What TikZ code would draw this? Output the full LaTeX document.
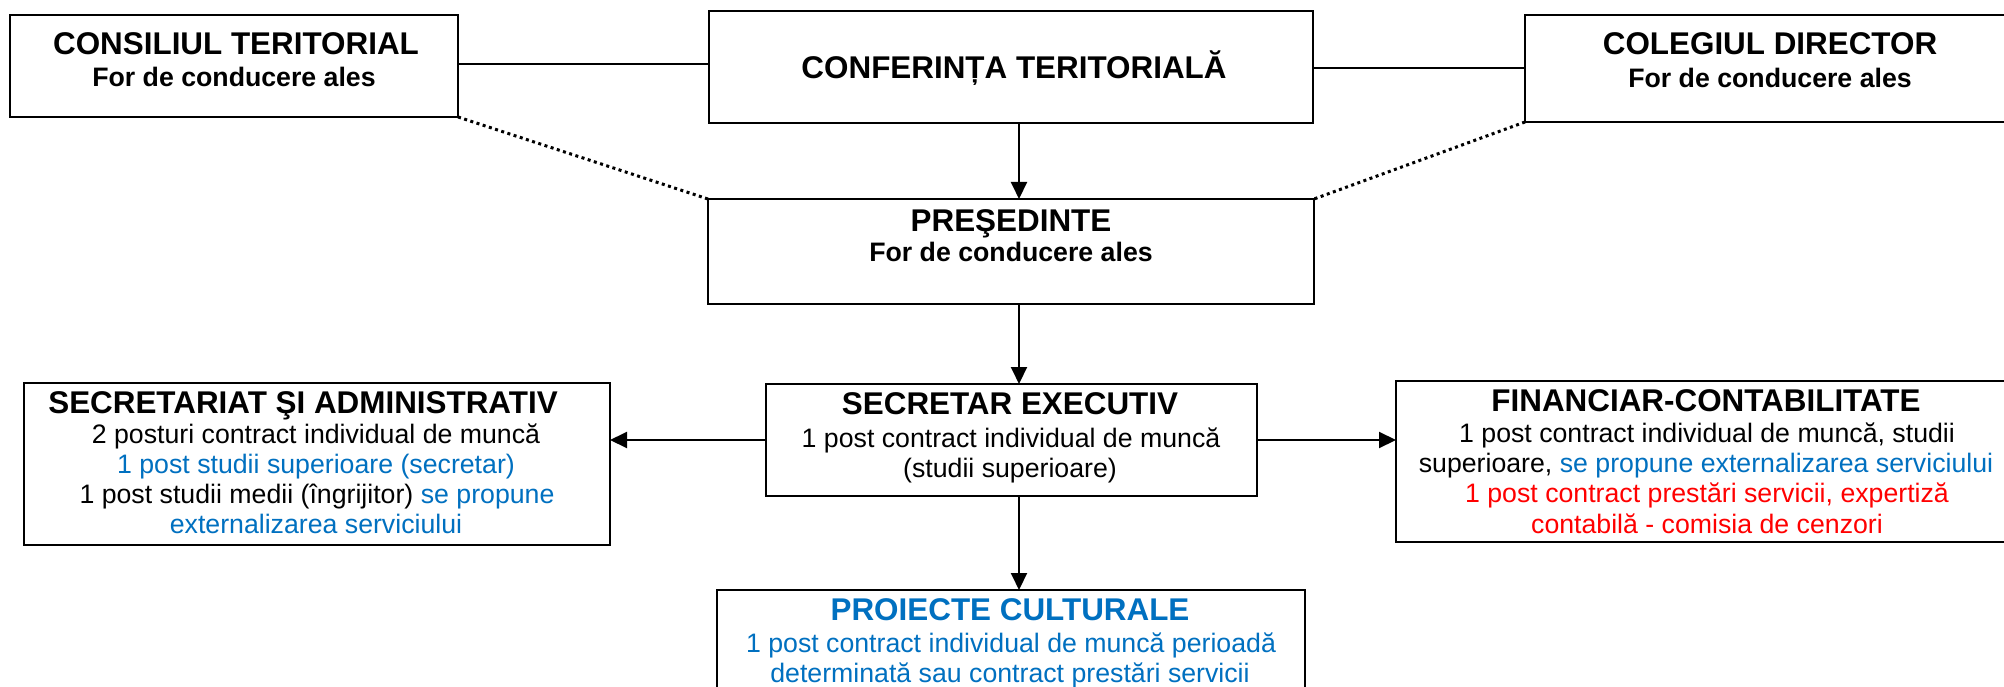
\documentclass[tikz,border=0pt]{standalone}
\usepackage{fontspec}
\setmainfont{Liberation Sans}
\usetikzlibrary{arrows.meta}
\definecolor{wblue}{HTML}{0070C0}
\definecolor{wred}{HTML}{FF0000}
\tikzset{
  box/.style={draw=black, line width=2.6pt, inner sep=0pt, outer sep=0pt, fill=none},
  ttl/.style={anchor=base, inner sep=0pt, font=\fontsize{31.4}{36}\selectfont\bfseries},
  sub/.style={anchor=base, inner sep=0pt, font=\fontsize{26.7}{30}\selectfont\bfseries},
  bod/.style={anchor=base, inner sep=0pt, font=\fontsize{26.7}{30}\selectfont},
  link/.style={draw=black, line width=2pt},
  arr/.style={draw=black, line width=2pt, -{Triangle[length=17pt,width=16pt]}},
  dots/.style={draw=black, line width=3pt, dash pattern=on 3pt off 3.5pt}
}
\begin{document}
\begin{tikzpicture}[x=1pt,y=-1pt]
\clip (0,0) rectangle (2004,687);
\fill[white] (0,0) rectangle (2004,687);
% boxes
\node[box, minimum width=448pt, minimum height=102pt] (cons) at (234,66) {};
\node[box, minimum width=604pt, minimum height=112pt] (conf) at (1011,67) {};
\node[box, minimum width=495pt, minimum height=107pt] (col) at (1772.5,68.5) {};
\node[box, minimum width=606pt, minimum height=105pt] (pres) at (1011,251.5) {};
\node[box, minimum width=586pt, minimum height=162pt] (secadm) at (317,464) {};
\node[box, minimum width=491pt, minimum height=112pt] (sec) at (1011.5,440) {};
\node[box, minimum width=624pt, minimum height=161pt] (fin) at (1708,461.5) {};
\node[box, minimum width=588pt, minimum height=110pt] (proj) at (1011,645) {};
% texts
\node[ttl] (consT) at (236,55) {CONSILIUL TERITORIAL};
\node[sub] (consS) at (234,87) {For de conducere ales};
\node[ttl] (confT) at (1014,79) {CONFERINȚA TERITORIALĂ};
\node[ttl] (colT) at (1770,55) {COLEGIUL DIRECTOR};
\node[sub] (colS) at (1770,88) {For de conducere ales};
\node[ttl] (presT) at (1011,231) {PREŞEDINTE};
\node[sub] (presS) at (1011,261) {For de conducere ales};
\node[ttl] (secadmT) at (303,413) {SECRETARIAT ŞI ADMINISTRATIV};
\node[bod] (secadm1) at (316,443) {2 posturi contract individual de muncă};
\node[bod, text=wblue] (secadm2) at (316,473) {1 post studii superioare (secretar)};
\node[bod] (secadm3) at (317,503) {1 post studii medii (îngrijitor) \textcolor{wblue}{se propune}};
\node[bod, text=wblue] (secadm4) at (316,533) {externalizarea serviciului};
\node[ttl] (secT) at (1010,414) {SECRETAR EXECUTIV};
\node[bod] (sec1) at (1011,447) {1 post contract individual de muncă};
\node[bod] (sec2) at (1010,477) {(studii superioare)};
\node[ttl] (finT) at (1706,411) {FINANCIAR-CONTABILITATE};
\node[bod] (fin1) at (1707,442) {1 post contract individual de muncă, studii};
\node[bod] (fin2) at (1706,472) {superioare, \textcolor{wblue}{se propune externalizarea serviciului}};
\node[bod, text=wred] (fin3) at (1707,502) {1 post contract prestări servicii, expertiză};
\node[bod, text=wred] (fin4) at (1707,533) {contabilă - comisia de cenzori};
\node[ttl, text=wblue] (projT) at (1010,620) {PROIECTE CULTURALE};
\node[bod, text=wblue] (proj1) at (1011,652) {1 post contract individual de muncă perioadă};
\node[bod, text=wblue] (proj2) at (1010,682) {determinată sau contract prestări servicii};
% connectors
\draw[link] ([yshift=2pt]cons.east) -- ([yshift=2pt]cons.east -| conf.west);
\draw[link] ([yshift=0.5pt]col.west -| conf.east) -- ([yshift=0.5pt]col.west);
\draw[dots] (cons.south east) -- (pres.north west);
\draw[dots] (col.south west) -- (pres.north east);
\draw[arr] ([xshift=8pt]conf.south) -- ([xshift=8pt]pres.north);
\draw[arr] ([xshift=8pt]pres.south) -- ([xshift=7.5pt]sec.north);
\draw[arr] (sec.west) -- (sec.west -| secadm.east);
\draw[arr] (sec.east) -- (sec.east -| fin.west);
\draw[arr] ([xshift=7.5pt]sec.south) -- ([xshift=8pt]proj.north);
\end{tikzpicture}
\end{document}
